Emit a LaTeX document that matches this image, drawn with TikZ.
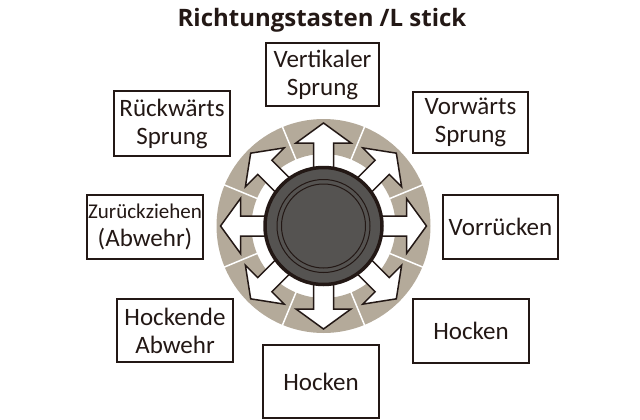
\documentclass[tikz,border=0pt]{standalone}
\usepackage{fontspec}
\setmainfont{Carlito}
\newfontfamily\titlefont{Open Sans}
\usetikzlibrary{positioning}
\definecolor{ink}{HTML}{231815}
\definecolor{sand}{HTML}{B4AA9A}
\definecolor{knob}{HTML}{555351}

\begin{document}
\begin{tikzpicture}
[every node/.style={inner sep=0pt, text=ink},
 label box/.style={draw=ink, line width=1.4pt, fill=white, align=center, minimum width=115pt, minimum height=64pt, font=\fontsize{25}{28}\selectfont},
 dir arrow/.style={fill=white, draw=ink, line width=1.5pt, line join=miter}]
\useasboundingbox (0pt,0pt) rectangle (640pt,-420pt);
\node (title) at (322pt,-20pt) {\titlefont\fontsize{24}{28}\selectfont\bfseries Richtungstasten /L stick};
% stick with ring and direction arrows
\coordinate (c) at (323.5pt,-226pt);
\fill[sand, even odd rule] (c) circle (107pt) (c) circle (72pt);
\foreach \a in {22.5,67.5,...,337.5}
  \draw[white, line width=1.5pt, shift={(c)}, rotate=\a] (71pt,0pt) -- (108pt,0pt);
\foreach \a in {0,45,...,315}
  \draw[dir arrow, shift={(c)}, rotate=\a] (40pt,-10pt) -- (83pt,-10pt) -- (83pt,-27.5pt) -- (103pt,0pt) -- (83pt,27.5pt) -- (83pt,10pt) -- (40pt,10pt) -- cycle;
\node (stick) [circle, minimum size=117pt, fill=knob, draw=ink, line width=3.5pt] at (c) {};
\draw[ink, line width=1pt] (stick.center) circle (46.5pt) (stick.center) circle (42pt);
% labels
\node (vsprung) [label box, minimum width=113pt, minimum height=63pt] at (322.5pt,-74.5pt) {Vertikaler\\Sprung};
\node (rsprung) [label box, minimum width=116pt, minimum height=65pt] at (172pt,-123.5pt) {Rückwärts\\Sprung};
\node (vwsprung) [label box, minimum height=61pt] at (470.5pt,-122.5pt) {Vorwärts\\Sprung};
\node (zurueck) [label box, minimum width=116pt] at (145pt,-227pt) {{\fontsize{21}{28}\selectfont Zurückziehen}\\(Abwehr)};
\node (vorruecken) [label box] at (500.5pt,-227pt) {Vorrücken};
\node (hockabwehr) [label box, minimum width=116pt, minimum height=63pt] at (175pt,-330.5pt) {Hockende\\Abwehr};
\node (hockenr) [label box, minimum width=116pt] at (471pt,-331pt) {Hocken};
\node (hockenu) [label box, minimum width=116pt, minimum height=73pt] at (321pt,-381.5pt) {Hocken};
\end{tikzpicture}
\end{document}
